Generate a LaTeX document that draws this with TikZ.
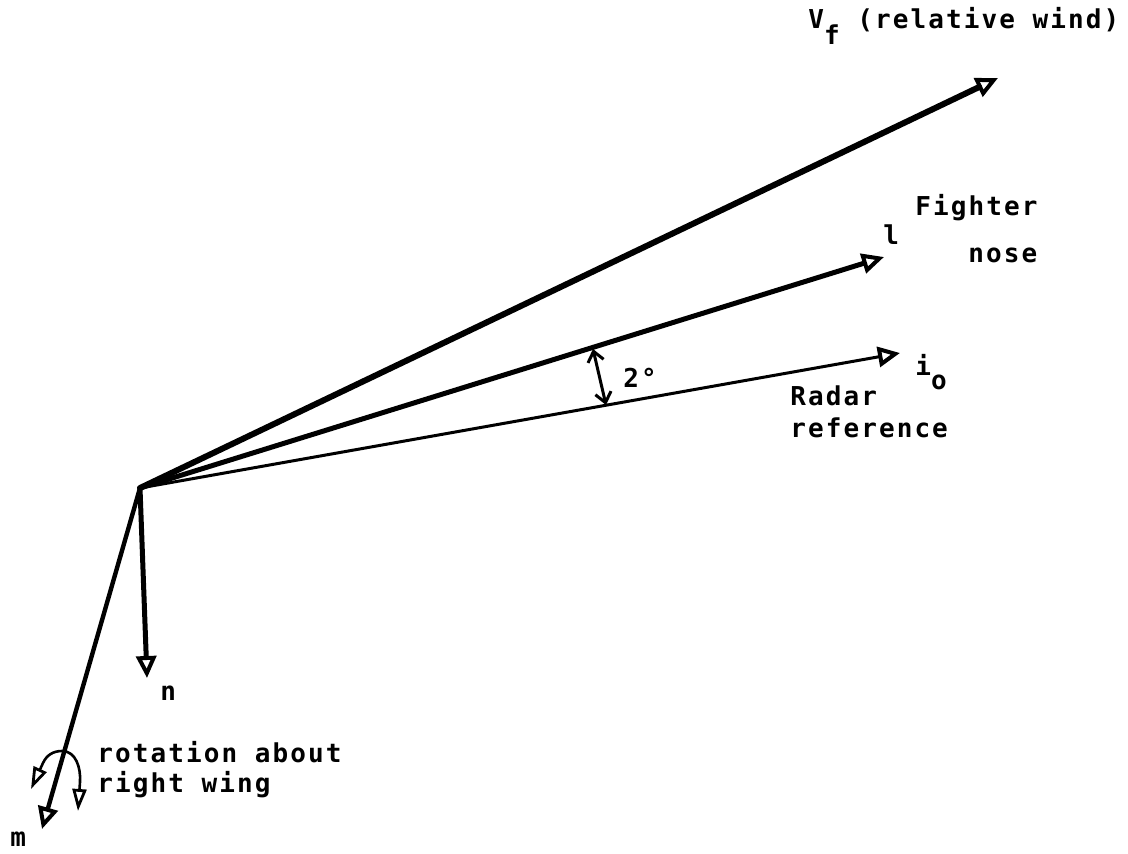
\documentclass[tikz,border=0pt]{standalone}
\usepackage{fontspec}
\setmonofont[LetterSpace=8]{DejaVu Sans Mono}
\usetikzlibrary{arrows.meta}
\begin{document}
\begin{tikzpicture}[
    x=0.5pt,y=-0.5pt,
    vec/.style={line cap=round,-{Triangle[open,length=11pt,width=10pt,line width=2pt]}},
    rot/.style={line width=1.3pt,line join=round,{Triangle[open,length=11pt,width=7pt,line width=1.4pt]}-{Triangle[open,length=11pt,width=7pt,line width=1.4pt]}},
    lbl/.style={anchor=base west,inner sep=0pt,font=\ttfamily\bfseries\fontsize{13}{15}\selectfont},
    >={Straight Barb[length=5pt,width=8pt]}
]
\useasboundingbox (0,0) rectangle (1128,853);
% body axes
\coordinate (cg) at (140,488);
\coordinate (vf) at (998,78);
\coordinate (nose) at (884,257);
\coordinate (radar) at (900,353);
\coordinate (down) at (147,678);
\coordinate (wing) at (42,829);
\coordinate (ang1) at (593,349);
\coordinate (ang2) at (606,405);
% rotation sign
\coordinate (rotl) at (31,789);
\coordinate (rotlb) at (43,763);
\coordinate (rottop) at (62,751);
\coordinate (rotrb) at (80,782);
\coordinate (rotr) at (78,811);

\draw[vec,line width=3pt] (cg)--(vf);
\draw[vec,line width=2.5pt] (cg)--(nose);
\draw[vec,line width=1.5pt] (cg)--(radar);
\draw[vec,line width=2.5pt] (cg)--(down);
\draw[vec,line width=2.2pt] (cg)--(wing);
\draw[<->,line width=1.5pt] (ang1)--(ang2);
\draw[rot] (rotl)--(rotlb) to[out=65,in=180] (rottop) to[out=0,in=86] (rotrb)--(rotr);

% labels
\node[lbl] (vflbl) at (808,28) {V\raisebox{-8pt}{f} (relative wind)};
\node[lbl] (lname) at (883,244) {l};
\node[lbl] (fighterlbl) at (915,215) {Fighter};
\node[lbl] (noselbl) at (968,262) {nose};
\node[lbl] (iolbl) at (915,375) {i\raisebox{-7pt}{o}};
\node[lbl] (anglbl) at (623,387) {2°};
\node[lbl] (radarlbl) at (790,405) {Radar};
\node[lbl] (reflbl) at (790,437) {reference};
\node[lbl] (nlbl) at (160,700) {n};
\node[lbl] (mlbl) at (10,846) {m};
\node[lbl,align=left] (rotlbl) at (97,792) {rotation about\\right wing};
\end{tikzpicture}
\end{document}
